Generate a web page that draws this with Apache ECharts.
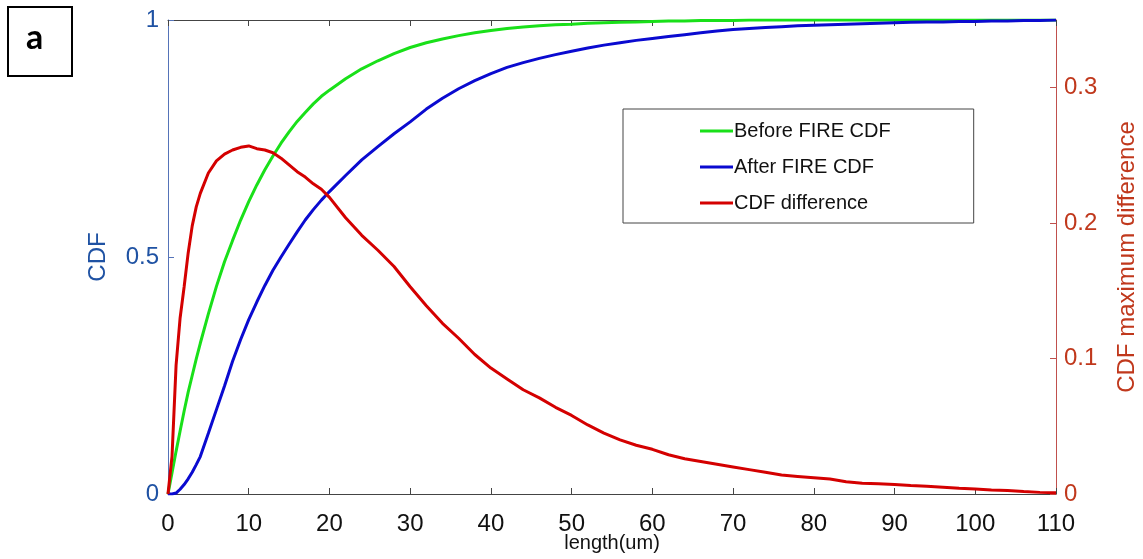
<!DOCTYPE html>
<html>
<head>
<meta charset="utf-8">
<script src="https://cdn.jsdelivr.net/npm/echarts@6/dist/echarts.min.js"></script>
<style>
  html, body { margin: 0; padding: 0; background: #fff; }
  #chart { width: 1143px; height: 559px; }
</style>
</head>
<body>
<div id="chart"></div>
<script>
// length (um) sample points
const lengths = [
  0, 0.5, 1, 1.5, 2, 2.5, 3, 3.5, 4,
  5, 6, 7, 8, 9, 10, 11, 12, 13, 14, 15, 16, 17, 18, 19, 20,
  22, 24, 26, 28, 30, 32, 34, 36, 38, 40, 42, 44, 46, 48, 50,
  52, 54, 56, 58, 60, 62, 64, 66, 68, 70,
  72, 74, 76, 78, 80, 82, 84, 86, 88, 90,
  92, 94, 96, 98, 100, 102, 104, 106, 108, 110
];
const beforeCdf = [
  0, 0.045, 0.09, 0.133, 0.175, 0.215, 0.25, 0.285, 0.318,
  0.38, 0.438, 0.49, 0.535, 0.578, 0.617, 0.652, 0.684, 0.713, 0.74, 0.764, 0.786, 0.805, 0.823, 0.839, 0.852,
  0.876, 0.897, 0.914, 0.929, 0.942, 0.952, 0.96, 0.967, 0.973, 0.978, 0.982, 0.985, 0.988, 0.99, 0.991,
  0.993, 0.994, 0.995, 0.996, 0.997, 0.998, 0.998, 0.999, 0.999, 0.999,
  1, 1, 1, 1, 1, 1, 1, 1, 1, 1,
  1, 1, 1, 1, 1, 1, 1, 1, 1, 1
];
const afterCdf = [
  0, 0, 0.002, 0.01, 0.02, 0.032, 0.046, 0.062, 0.079,
  0.128, 0.178, 0.228, 0.28, 0.326, 0.368, 0.405, 0.44, 0.472, 0.5, 0.527, 0.553, 0.578, 0.6, 0.62, 0.638,
  0.672, 0.705, 0.733, 0.76, 0.785, 0.812, 0.835, 0.855, 0.872, 0.887, 0.9, 0.91, 0.919, 0.927, 0.934,
  0.941, 0.947, 0.952, 0.957, 0.961, 0.965, 0.969, 0.973, 0.977, 0.98,
  0.982, 0.984, 0.986, 0.988, 0.989, 0.99, 0.991, 0.992, 0.993, 0.994,
  0.995, 0.996, 0.996, 0.997, 0.997, 0.998, 0.998, 0.999, 0.999, 1
];
const cdfDiff = [
  0, 0.028, 0.095, 0.13, 0.153, 0.178, 0.198, 0.212, 0.222,
  0.237, 0.246, 0.251, 0.254, 0.256, 0.257, 0.255, 0.254, 0.252, 0.248, 0.243, 0.238, 0.234, 0.229, 0.225, 0.219,
  0.204, 0.191, 0.18, 0.168, 0.153, 0.139, 0.126, 0.115, 0.103, 0.093, 0.085, 0.077, 0.071, 0.064, 0.058,
  0.051, 0.045, 0.04, 0.036, 0.033, 0.029, 0.026, 0.024, 0.022, 0.02,
  0.018, 0.016, 0.014, 0.013, 0.012, 0.011, 0.009, 0.008, 0.0075, 0.007,
  0.0063, 0.0057, 0.005, 0.0043, 0.0037, 0.003, 0.0025, 0.0018, 0.0012, 0.001
];
const seriesNames = ["Before FIRE CDF", "After FIRE CDF", "CDF difference"];

const FONT = "Arial, 'Liberation Sans', sans-serif";
const BLUE_TXT = "#1f52a3";
const RED_TXT = "#c0381c";

const pairs = (ys) => lengths.map((x, i) => [x, ys[i]]);

const chart = echarts.init(document.getElementById("chart"));
chart.setOption({
  animation: false,
  backgroundColor: "#fff",
  grid: { left: 168, right: 87, top: 20, bottom: 65, containLabel: false, outerBoundsMode: "none" },
  legend: {
    orient: "vertical",
    left: 623,
    top: 109,
    padding: [11, 83, 9, 77],
    itemGap: 14,
    itemWidth: 33,
    itemHeight: 3,
    icon: "rect",
    backgroundColor: "#fff",
    borderColor: "#444",
    borderWidth: 1,
    textStyle: { fontFamily: FONT, fontSize: 20, color: "#111", lineHeight: 22, padding: [0, 0, 0, -4] },
    data: seriesNames
  },
  xAxis: [
    {
      type: "value", min: 0, max: 110, interval: 10, position: "bottom",
      name: "length(um)", nameLocation: "middle", nameGap: 39, nameMoveOverlap: false,
      nameTextStyle: { fontFamily: FONT, fontSize: 20, color: "#111" },
      axisLine: { onZero: false, lineStyle: { color: "#444", width: 1 } },
      axisTick: { inside: true, length: 6, lineStyle: { color: "#444" } },
      axisLabel: { fontFamily: FONT, fontSize: 24, color: "#111", margin: 18 },
      splitLine: { show: false }
    },
    {
      type: "value", min: 0, max: 110, interval: 10, position: "top",
      axisLine: { onZero: false, lineStyle: { color: "#444", width: 1 } },
      axisTick: { inside: true, length: 6, lineStyle: { color: "#444" } },
      axisLabel: { show: false },
      splitLine: { show: false }
    }
  ],
  yAxis: [
    {
      type: "value", min: 0, max: 1, interval: 0.5, position: "left",
      name: "CDF", nameLocation: "middle", nameGap: 58, nameMoveOverlap: false,
      nameTextStyle: { fontFamily: FONT, fontSize: 24, color: BLUE_TXT },
      axisLine: { show: true, onZero: false, lineStyle: { color: "#5573b8", width: 1 } },
      axisTick: { show: true, inside: true, length: 6, lineStyle: { color: "#5573b8" } },
      axisLabel: { fontFamily: FONT, fontSize: 24, color: BLUE_TXT, margin: 9 },
      splitLine: { show: false }
    },
    {
      type: "value", min: 0, max: 0.35, interval: 0.1, position: "right",
      name: "CDF maximum difference", nameLocation: "middle", nameGap: 59, nameMoveOverlap: false,
      nameTextStyle: { fontFamily: FONT, fontSize: 24, color: RED_TXT },
      axisLine: { show: true, onZero: false, lineStyle: { color: "#c0504d", width: 1 } },
      axisTick: { show: true, inside: true, length: 6, lineStyle: { color: "#c0504d" } },
      axisLabel: {
        fontFamily: FONT, fontSize: 24, color: RED_TXT, margin: 8, showMaxLabel: false,
        formatter: (v) => (v > 0.31 ? "" : String(Math.round(v * 10) / 10))
      },
      splitLine: { show: false }
    }
  ],
  series: [
    {
      name: seriesNames[0], type: "line", xAxisIndex: 0, yAxisIndex: 0, data: pairs(beforeCdf),
      showSymbol: false, symbol: "none", color: "#19e019",
      lineStyle: { width: 3, color: "#19e019" }
    },
    {
      name: seriesNames[1], type: "line", xAxisIndex: 0, yAxisIndex: 0, data: pairs(afterCdf),
      showSymbol: false, symbol: "none", color: "#0a0ad0",
      lineStyle: { width: 3, color: "#0a0ad0" }
    },
    {
      name: seriesNames[2], type: "line", xAxisIndex: 0, yAxisIndex: 1, data: pairs(cdfDiff),
      showSymbol: false, symbol: "none", color: "#d40000",
      lineStyle: { width: 3, color: "#d40000" }
    }
  ],
  graphic: [
    {
      type: "rect", left: 7, top: 6,
      shape: { width: 64, height: 69 },
      style: { fill: "#fff", stroke: "#000", lineWidth: 2 }
    },
    {
      type: "text", left: 26, top: 21,
      style: { text: "a", font: "bold 34px Lato, 'Open Sans', sans-serif", fill: "#000" }
    }
  ]
});
</script>
</body>
</html>
